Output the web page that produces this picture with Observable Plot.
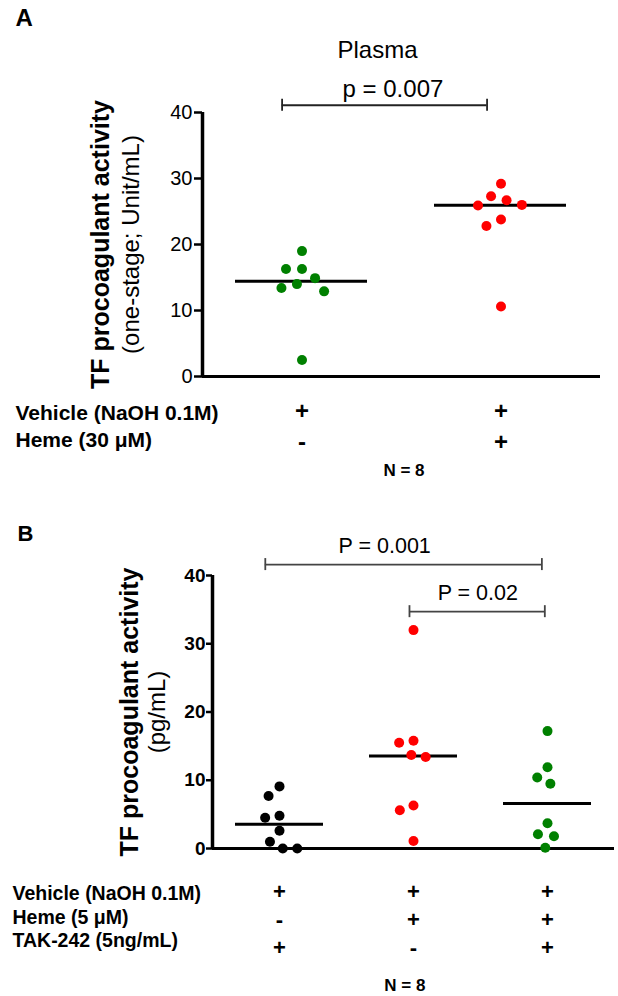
<!DOCTYPE html>
<html><head><meta charset="utf-8">
<script src="https://cdn.jsdelivr.net/npm/d3@7"></script>
<script src="https://cdn.jsdelivr.net/npm/@observablehq/plot@0.6"></script>
<style>
html,body{margin:0;padding:0;background:#fff;}
#chart{width:618px;height:996px;overflow:hidden;background:#fff;}
#chart svg{display:block;}
</style></head><body><div id="chart"></div>
<script>
// ===== Panel A data =====
const panelLabelA = "A";
const titleA = "Plasma";
const catsA = ["Vehicle", "Heme 30 µM"];
const valuesA_vehicle = [19.0, 16.3, 16.3, 14.9, 14.0, 13.4, 12.9, 2.5];
const valuesA_heme = [29.2, 27.3, 26.7, 26.0, 25.9, 23.8, 22.8, 10.6];
const yTicksA = [0, 10, 20, 30, 40];
const yLabelA = "TF procoagulant activity";
const yUnitA = "(one-stage; Unit/mL)";
const rowLabelsA = ["Vehicle (NaOH 0.1M)", "Heme (30 μM)"];
const signsA_vehicleRow = ["+", "+"];
const signsA_hemeRow = ["-", "+"];
const nLabelA = "N = 8";
// significance bracket: ends and label position in category-index units, height in y units
const bracketsA = [{from: 0.9, to: 1.93, at: 1.457, y: 41.1, label: "p = 0.007"}];

// ===== Panel B data =====
const panelLabelB = "B";
const catsB = ["Vehicle+TAK", "Heme", "Heme+TAK"];
const valuesB_vehTak = [9.1, 7.7, 4.8, 4.5, 2.6, 1.0, 0.0, 0.0];
const valuesB_heme = [32.0, 15.8, 15.5, 13.7, 13.4, 6.3, 5.6, 1.1];
const valuesB_hemeTak = [17.2, 11.9, 10.4, 9.5, 3.7, 2.1, 1.8, 0.1];
const yTicksB = [0, 10, 20, 30, 40];
const yLabelB = "TF procoagulant activity";
const yUnitB = "(pg/mL)";
const rowLabelsB = ["Vehicle (NaOH 0.1M)", "Heme (5 μM)", "TAK-242 (5ng/mL)"];
const signsB_vehicleRow = ["+", "+", "+"];
const signsB_hemeRow = ["-", "+", "+"];
const signsB_takRow = ["+", "-", "+"];
const nLabelB = "N = 8";
const bracketsB = [
  {from: 0.894, to: 2.958, at: 1.785, y: 41.6, label: "P = 0.001"},
  {from: 1.970, to: 2.980, at: 2.480, y: 34.7, label: "P = 0.02"}
];

// ===== styles =====
const FONT = "Liberation Sans, Arial, Helvetica, sans-serif";
const colorsA = ["#008000", "#ff0000"];
const colorsB = ["#000000", "#ff0000", "#008000"];

const dataA = [
  ...valuesA_vehicle.map(v => ({group: catsA[0], value: v})),
  ...valuesA_heme.map(v => ({group: catsA[1], value: v}))
];
const dataB = [
  ...valuesB_vehTak.map(v => ({group: catsB[0], value: v})),
  ...valuesB_heme.map(v => ({group: catsB[1], value: v})),
  ...valuesB_hemeTak.map(v => ({group: catsB[2], value: v}))
];
const signsA = [signsA_vehicleRow, signsA_hemeRow].map(row => row.map((s, i) => ({group: catsA[i], sign: s})));
const signsB = [signsB_vehicleRow, signsB_hemeRow, signsB_takRow].map(row => row.map((s, i) => ({group: catsB[i], sign: s})));
const capsOf = br => br.flatMap(b => [{x: b.from, y: b.y}, {x: b.to, y: b.y}]);
const T = {lineAnchor: "middle"};

// ===== Panel A =====
const firstA = () => catsA[0];
const plotA = Plot.plot({
  width: 618, height: 480,
  marginTop: 112, marginBottom: 104, marginLeft: 201, marginRight: 18,
  style: {fontFamily: FONT, background: "white", color: "black", overflow: "visible"},
  fx: {domain: catsA, padding: 0, axis: null, label: null},
  x: {domain: [0.5, 1.5], axis: null},
  y: {domain: [0, 40]},
  color: {domain: catsA, range: colorsA},
  marks: [
    Plot.axisY({ticks: yTicksA, tickSize: 8, tickPadding: 2, fontSize: 20, strokeWidth: 2.5, label: null, tickFormat: d => String(d)}),
    Plot.ruleX([catsA[0]], {fx: d => d, x: () => 0.5, strokeWidth: 3.5}),
    Plot.ruleY([0], {strokeWidth: 3}),
    Plot.tickY(dataA, Plot.groupZ({y: "median"}, {fx: "group", y: "value", insetLeft: 33, insetRight: 34, strokeWidth: 3})),
    Plot.dot(dataA, Plot.dodgeX({anchor: "middle", padding: 6}, {fx: "group", y: "value", r: 5, fill: "group"})),
    Plot.ruleY(bracketsA, {fx: firstA, y: "y", x1: "from", x2: "to", stroke: "#222", strokeWidth: 1.8}),
    Plot.ruleX(capsOf(bracketsA), {fx: firstA, x: "x", y1: "y", y2: "y", insetTop: -6, insetBottom: -6, stroke: "#222", strokeWidth: 1.8}),
    Plot.text(bracketsA, {...T, fx: firstA, x: "at", y: "y", text: "label", dy: -16, fontSize: 24}),
    Plot.text([panelLabelA], {...T, fx: firstA, text: d => d, frameAnchor: "top-left", textAnchor: "start", dx: -187, dy: -94, fontSize: 24, fontWeight: "bold"}),
    Plot.text([titleA], {...T, fx: firstA, text: d => d, frameAnchor: "top-right", textAnchor: "middle", dx: -24, dy: -62, fontSize: 24}),
    Plot.text([yLabelA], {...T, fx: firstA, text: d => d, frameAnchor: "left", textAnchor: "middle", rotate: -90, dx: -102, fontSize: 25, fontWeight: "bold"}),
    Plot.text([yUnitA], {...T, fx: firstA, text: d => d, frameAnchor: "left", textAnchor: "middle", rotate: -90, dx: -71, fontSize: 24}),
    ...rowLabelsA.map((lab, k) => Plot.text([lab], {...T, fx: firstA, text: d => d, frameAnchor: "bottom-left", textAnchor: "start", dx: -187, dy: [36.6, 64][k], fontSize: 21, fontWeight: "bold"})),
    ...signsA.map((row, k) => Plot.text(row, {...T, fx: "group", text: "sign", frameAnchor: "bottom", textAnchor: "middle", dy: [35, 66][k], fontSize: 24, fontWeight: "bold"})),
    Plot.text([nLabelA], {...T, fx: firstA, text: d => d, frameAnchor: "bottom-right", textAnchor: "middle", dx: 2.5, dy: 93.6, fontSize: 17, fontWeight: "bold"})
  ]
});

// ===== Panel B =====
const firstB = () => catsB[0];
const plotB = Plot.plot({
  width: 618, height: 516,
  marginTop: 95, marginBottom: 148, marginLeft: 211, marginRight: 3,
  style: {fontFamily: FONT, background: "white", color: "black", overflow: "visible"},
  fx: {domain: catsB, padding: 0, axis: null, label: null},
  x: {domain: [0.5, 1.5], axis: null},
  y: {domain: [0, 40]},
  color: {domain: catsB, range: colorsB},
  marks: [
    Plot.axisY({ticks: yTicksB, tickSize: 6, tickPadding: 1, fontSize: 19, fontWeight: "bold", strokeWidth: 2.5, label: null, tickFormat: d => String(d)}),
    Plot.ruleX([catsB[0]], {fx: d => d, x: () => 0.5, strokeWidth: 3.5}),
    Plot.ruleY([0], {strokeWidth: 3}),
    Plot.tickY(dataB, Plot.groupZ({y: "median"}, {fx: "group", y: "value", insetLeft: 23, insetRight: 23, strokeWidth: 3})),
    Plot.dot(dataB, Plot.dodgeX({anchor: "middle", padding: 4.5}, {fx: "group", y: "value", r: 5, fill: "group"})),
    Plot.ruleY(bracketsB, {fx: firstB, y: "y", x1: "from", x2: "to", stroke: "#444", strokeWidth: 1.8}),
    Plot.ruleX(capsOf(bracketsB), {fx: firstB, x: "x", y1: "y", y2: "y", insetTop: -6, insetBottom: -6, stroke: "#444", strokeWidth: 1.8}),
    Plot.text(bracketsB, {...T, fx: firstB, x: "at", y: "y", text: "label", dy: -18.5, fontSize: 21.5}),
    Plot.text([panelLabelB], {...T, fx: firstB, text: d => d, frameAnchor: "top-left", textAnchor: "start", dx: -195, dy: -42, fontSize: 22, fontWeight: "bold"}),
    Plot.text([yLabelB], {...T, fx: firstB, text: d => d, frameAnchor: "left", textAnchor: "middle", rotate: -90, dx: -83, fontSize: 25, fontWeight: "bold"}),
    Plot.text([yUnitB], {...T, fx: firstB, text: d => d, frameAnchor: "left", textAnchor: "middle", rotate: -90, dx: -55, fontSize: 24}),
    ...rowLabelsB.map((lab, k) => Plot.text([lab], {...T, fx: firstB, text: d => d, frameAnchor: "bottom-left", textAnchor: "start", dx: -200, dy: [45, 69, 92][k], fontSize: 19.5, fontWeight: "bold"})),
    ...signsB.map((row, k) => Plot.text(row, {...T, fx: "group", text: "sign", frameAnchor: "bottom", textAnchor: "middle", dy: [43, 71, 99][k], fontSize: 22, fontWeight: "bold"})),
    Plot.text([nLabelB], {...T, fx: firstB, text: d => d, frameAnchor: "bottom-right", textAnchor: "middle", dx: 58.3, dy: 136.6, fontSize: 17, fontWeight: "bold"})
  ]
});

const root = document.getElementById("chart");
root.appendChild(plotA);
root.appendChild(plotB);
</script>
</body></html>
